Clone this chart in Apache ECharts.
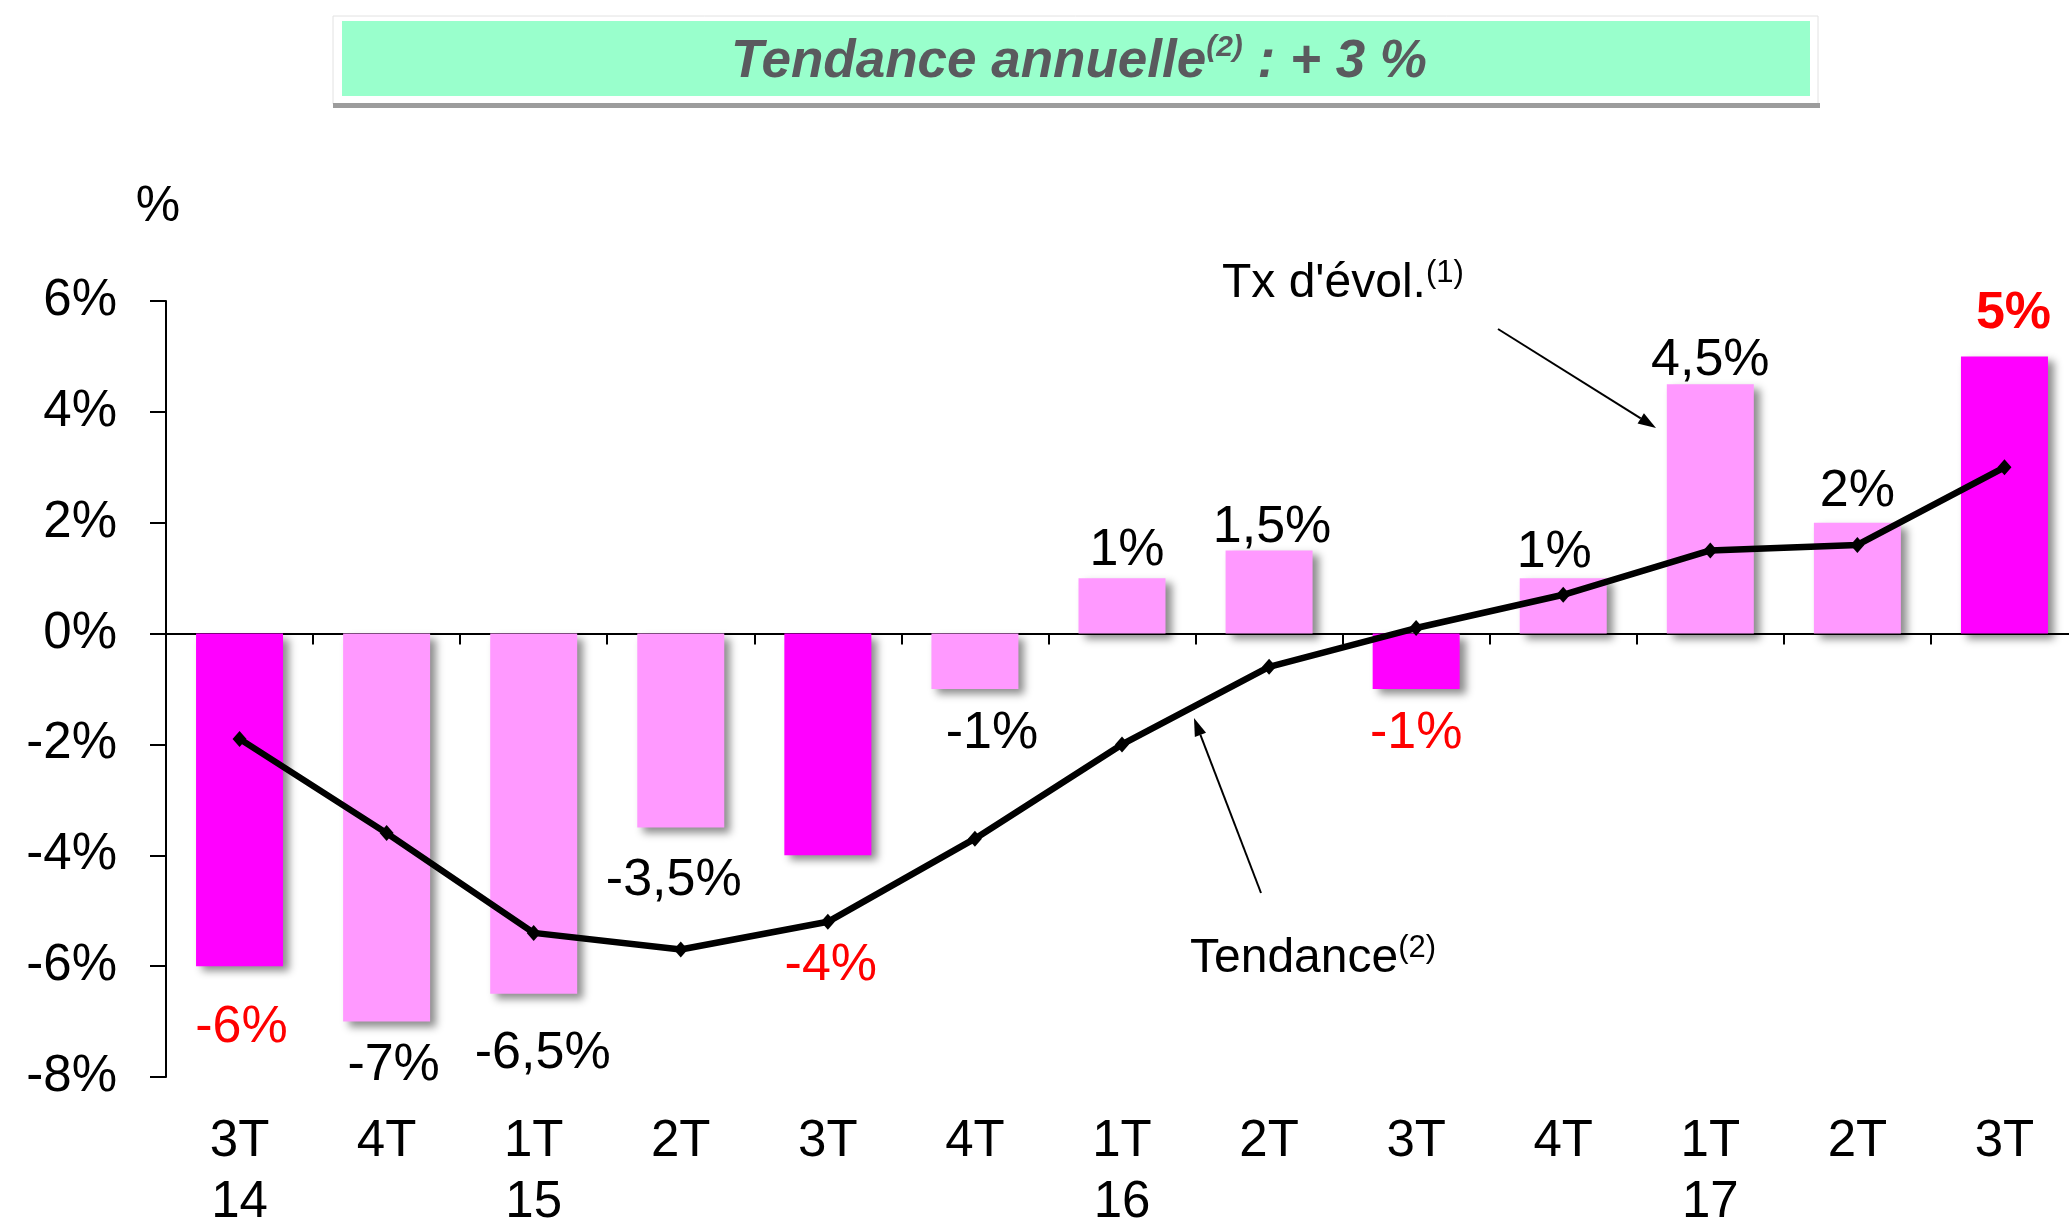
<!DOCTYPE html>
<html>
<head>
<meta charset="utf-8">
<script src="https://cdn.jsdelivr.net/npm/echarts@6/dist/echarts.min.js"></script>
<style>
html, body { margin: 0; padding: 0; background: #fff; overflow: hidden; }
#chart { position: absolute; left: 0; top: 0; width: 2069px; height: 1218px; }
</style>
</head>
<body>
<div id="chart"></div>
<script>
// data
var quarters = ['3T', '4T', '1T', '2T', '3T', '4T', '1T', '2T', '3T', '4T', '1T', '2T', '3T'];
var years    = ['14', '',   '15', '',   '',   '',   '16', '',   '',   '',   '17', '',   ''];
var txEvol   = [-6, -7, -6.5, -3.5, -4, -1, 1, 1.5, -1, 1, 4.5, 2, 5];
var tendance = [-1.9, -3.6, -5.4, -5.7, -5.2, -3.7, -2.0, -0.6, 0.1, 0.7, 1.5, 1.6, 3.0];

// label placement tweaks (layout only): gap from bar end, horizontal shift
var labelGap   = [36, 18, 34, 27, 84, 19, 1, -3, 19, -1, -3, 5, 17];
var labelShift = [2, 7, 9, -7, 3, 17, 5, 3, 0, -9, 0, 0, 9];

var FONT = "'Liberation Sans', Arial, Helvetica, sans-serif";
var categories = quarters.map(function (q, i) { return years[i] ? q + '\n' + years[i] : q; });

function fmt(v) { return String(v).replace('.', ',') + '%'; }

var barData = txEvol.map(function (v, i) {
  var hot = quarters[i] === '3T';
  return {
    value: v,
    itemStyle: { color: hot ? '#FF00FF' : '#FF99FF' },
    label: {
      position: v < 0 ? 'bottom' : 'top',
      distance: labelGap[i],
      offset: [labelShift[i], 0],
      color: hot ? '#FF0000' : '#000',
      fontWeight: (hot && v > 0) ? 'bold' : 'normal'
    }
  };
});

function arrow(x1, y1, x2, y2) {
  var dx = x2 - x1, dy = y2 - y1, len = Math.sqrt(dx * dx + dy * dy);
  var ux = dx / len, uy = dy / len, hl = 18, hw = 6;
  var bx = x2 - ux * hl, by = y2 - uy * hl;
  return [
    { type: 'line', z: 100, shape: { x1: x1, y1: y1, x2: bx, y2: by }, style: { stroke: '#000', lineWidth: 2 } },
    { type: 'polygon', z: 100, shape: { points: [[x2, y2], [bx - uy * hw, by + ux * hw], [bx + uy * hw, by - ux * hw]] }, style: { fill: '#000' } }
  ];
}

var myChart = echarts.init(document.getElementById('chart'), null, { width: 2069, height: 1218 });

var graphics = [
  { type: 'rect', shape: { x: 333, y: 16, width: 1485, height: 88 }, style: { fill: '#fff', stroke: '#e2e2e2', lineWidth: 1 } },
  { type: 'rect', shape: { x: 333, y: 103, width: 1487, height: 5 }, style: { fill: '#9c9c9c' } },
  { type: 'rect', shape: { x: 342, y: 21, width: 1468, height: 75 }, style: { fill: '#99FFCC' } },
  {
    type: 'text', x: 1079, y: 62,
    style: {
      text: '{t|Tendance annuelle}{s|(2)}{t| : + 3 %}',
      align: 'center', verticalAlign: 'middle',
      rich: {
        t: { fontSize: 53, fontWeight: 'bold', fontStyle: 'italic', fontFamily: FONT, fill: '#5a5a5e', lineHeight: 58 },
        s: { fontSize: 30, fontWeight: 'bold', fontStyle: 'italic', fontFamily: FONT, fill: '#5a5a5e', lineHeight: 32, verticalAlign: 'top' }
      }
    }
  },
  { type: 'text', x: 158, y: 207, style: { text: '%', fontSize: 50, fontFamily: FONT, fill: '#000', align: 'center', verticalAlign: 'middle' } },
  {
    type: 'text', x: 1222, y: 284, z: 100,
    style: {
      text: "{t|Tx d'évol.}{s|(1)}", align: 'left', verticalAlign: 'middle',
      rich: {
        t: { fontSize: 48, fontFamily: FONT, fill: '#000', lineHeight: 52 },
        s: { fontSize: 31, fontFamily: FONT, fill: '#000', lineHeight: 32, verticalAlign: 'top' }
      }
    }
  },
  {
    type: 'text', x: 1190, y: 959, z: 100,
    style: {
      text: '{t|Tendance}{s|(2)}', align: 'left', verticalAlign: 'middle',
      rich: {
        t: { fontSize: 48, fontFamily: FONT, fill: '#000', lineHeight: 52 },
        s: { fontSize: 31, fontFamily: FONT, fill: '#000', lineHeight: 32, verticalAlign: 'top' }
      }
    }
  }
].concat(arrow(1498, 329, 1656, 428), arrow(1261, 893, 1194, 718));

myChart.setOption({
  animation: false,
  textStyle: { fontFamily: FONT },
  grid: { left: 166, right: -9, top: 301, bottom: 141, containLabel: false, outerBoundsMode: 'none' },
  xAxis: [
    {
      // axis line drawn through 0 %
      type: 'category', data: categories, position: 'top',
      axisLine: { onZero: true, lineStyle: { color: '#000', width: 2 } },
      axisTick: { show: true, inside: true, length: 11, interval: 0, lineStyle: { color: '#000', width: 2 } },
      axisLabel: { show: false }
    },
    {
      // quarter labels under the plot
      type: 'category', data: categories, position: 'bottom',
      axisLine: { show: false, onZero: false },
      axisTick: { show: false },
      axisLabel: { interval: 0, margin: 34, fontSize: 51, lineHeight: 61, color: '#000', fontFamily: FONT }
    }
  ],
  yAxis: {
    type: 'value', min: -8, max: 6, interval: 2,
    axisLine: { show: true, lineStyle: { color: '#000', width: 2 } },
    axisTick: { show: true, length: 16, lineStyle: { color: '#000', width: 2 } },
    axisLabel: { formatter: '{value}%', fontSize: 51, color: '#000', margin: 49, fontFamily: FONT },
    splitLine: { show: false }
  },
  series: [
    {
      type: 'bar', name: "Tx d'évol.", xAxisIndex: 0, barWidth: 87,
      data: barData,
      itemStyle: { shadowColor: 'rgba(0,0,0,0.45)', shadowBlur: 8, shadowOffsetX: 6, shadowOffsetY: 5 },
      label: { show: true, fontSize: 52, fontFamily: FONT, formatter: function (p) { return fmt(p.value); } }
    },
    {
      type: 'line', name: 'Tendance', xAxisIndex: 0, data: tendance, z: 5,
      symbol: 'diamond', symbolSize: [14, 16], showSymbol: true,
      lineStyle: { color: '#000', width: 6.5 },
      itemStyle: { color: '#000' }
    }
  ],
  graphic: graphics
});
</script>
</body>
</html>
